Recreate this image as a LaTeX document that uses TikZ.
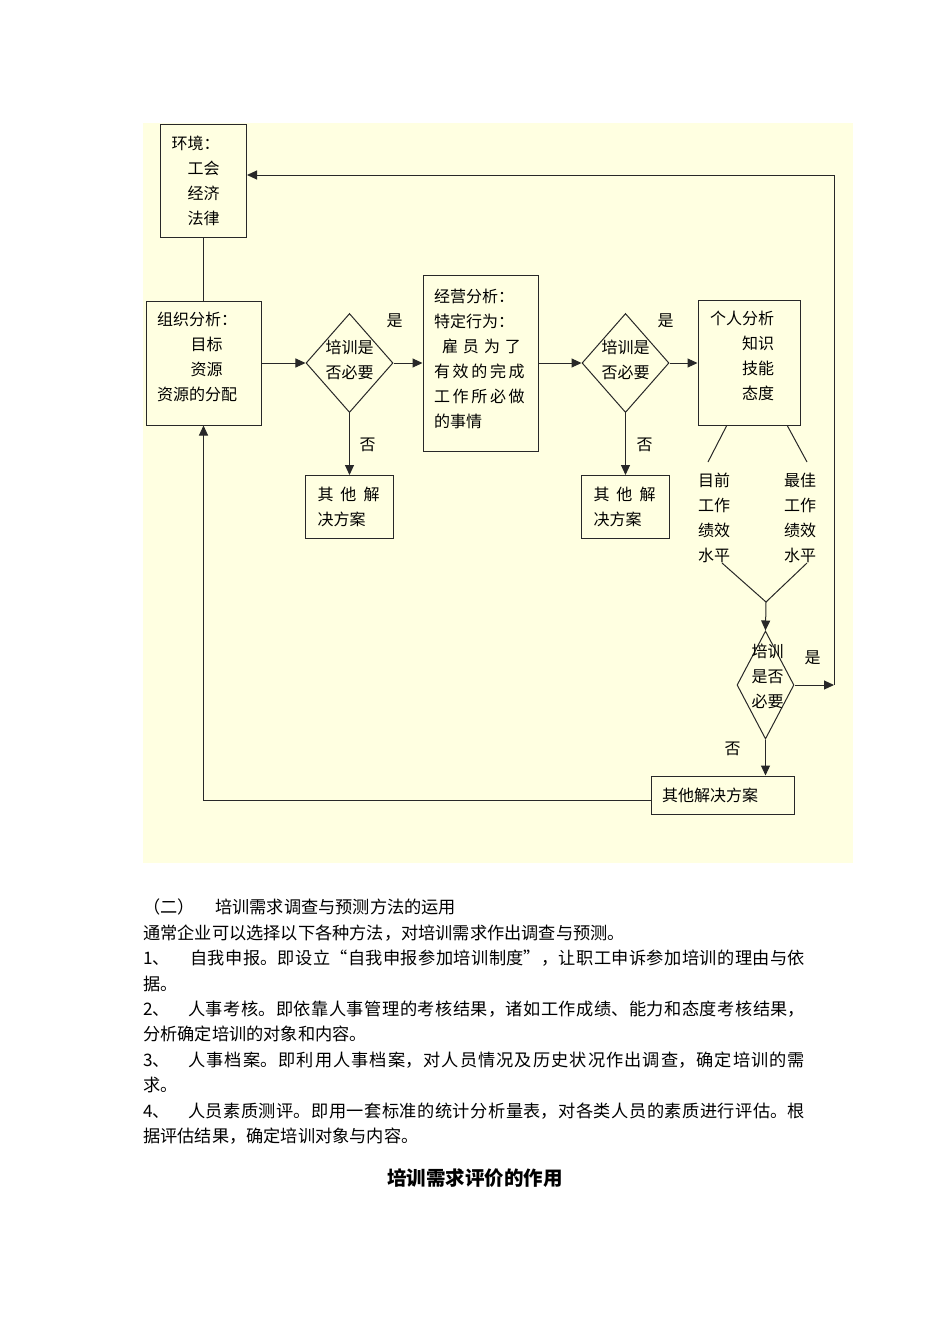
\documentclass[tikz,border=0pt]{standalone}
\usepackage{fontspec}
\setmainfont{Noto Sans CJK SC}
\usepackage{tikz}
\usetikzlibrary{positioning}
\usetikzlibrary{shapes.geometric}
\usetikzlibrary{arrows.meta}
\usetikzlibrary{calc}
\XeTeXlinebreaklocale "zh"
\XeTeXlinebreakskip=0pt plus 2pt
\definecolor{bgyellow}{RGB}{255,255,225}
\definecolor{inkgray}{RGB}{40,40,40}
\newcommand{\fullline}[1]{\parbox[t]{662pt}{\noindent\parfillskip=0pt\relax #1\par}}

\begin{document}
\begin{tikzpicture}[x=1pt,y=-1pt,
		font=\fontsize{16}{25}\selectfont,
		box/.style={draw=inkgray,line width=1pt,rectangle,align=left,inner xsep=11pt,inner ysep=0pt},
		decide/.style={draw=inkgray,line width=1pt,diamond,inner sep=0pt,minimum width=87pt,minimum height=99pt},
		flow/.style={draw=inkgray,line width=1pt,-{Triangle[length=10pt,width=9pt]}},
		link/.style={draw=inkgray,line width=1pt}]
		\useasboundingbox (0,0) rectangle (950,1344);
		\fill[bgyellow] (143,123) rectangle (853,863);
		% first row
		\node[box,text width=93pt,text height=24pt,text depth=100pt] at (203.5,363) (org) {组织分析：\\\hspace*{2.1em}目标\\\hspace*{2.1em}资源\\资源的分配};
		\node[above = 63pt of org,box,text width=64pt,minimum height=113pt] (env) {环境：\\\hspace*{1em}工会\\\hspace*{1em}经济\\\hspace*{1em}法律};
		\node[right = 44pt of org,decide,label={[align=center,yshift=3pt]center:培训是\\否必要}] (d1) {};
		\node[right = 29pt of d1,box,text width=93pt,text height=27pt,text depth=149pt] (biz) {经营分析：\\特定行为：\\\hspace*{0.5em}雇\hspace{5pt}员\hspace{5pt}为\hspace{5pt}了\\有\,效\,的\,完\,成\\工\,作\,所\,必\,做\\的事情};
		\node[right = 43pt of biz,decide,label={[align=center,yshift=3pt]center:培训是\\否必要}] (d2) {};
		\node[right = 28pt of d2,box,inner xsep=12pt,text width=78pt,text height=24pt,text depth=101pt] (pers) {个人分析\\\hspace*{2em}知识\\\hspace*{2em}技能\\\hspace*{2em}态度};
		\node[below = 62pt of d1,box,inner xsep=12pt,text width=64pt,minimum height=63pt] (oth1) {其\hspace{7pt}他\hspace{7pt}解\\决方案};
		\node[below = 62pt of d2,box,inner xsep=12pt,text width=64pt,minimum height=63pt] (oth2) {其\hspace{7pt}他\hspace{7pt}解\\决方案};
		% performance gap
		\node[align=center] at (714,517.5) (cur) {目前\\工作\\绩效\\水平};
		\node[align=center] at (800,517.5) (best) {最佳\\工作\\绩效\\水平};
		\node[decide,minimum width=57pt,minimum height=108pt,label={[align=center,yshift=9pt,xshift=2pt]center:培训\\是否\\必要}] at (765.5,685) (d3) {};
		\node[box,text width=121pt,minimum height=38pt] at (722.5,795) (oth3) {其他解决方案};
		% yes / no
		\node at ($(d1.east)+(1,-42)$) (yes1) {是};
		\node at ($(d1.south)+(18,32)$) (no1) {否};
		\node at ($(d2.east)+(-4,-42)$) (yes2) {是};
		\node at ($(d2.south)+(19,32)$) (no2) {否};
		\node at ($(d3.east)+(18,-27)$) (yes3) {是};
		\node at ($(d3.south)+(-33,9)$) (no3) {否};
		\coordinate (pl) at (708,462);
		\coordinate (pr) at (807,462);
		\coordinate (cl) at (722,563);
		\coordinate (cr) at (807,563);
		\coordinate (join) at (766,602);
		\coordinate (rt) at (834,685);
		\coordinate (ret) at (834,175);
		% connectors
		\draw[link] (env.south) -- (env.south |- org.north);
		\draw[flow] (org) -- (d1);
		\draw[flow] (d1) -- (biz);
		\draw[flow] (d1) -- (oth1);
		\draw[flow] (biz) -- (d2);
		\draw[flow] (d2) -- (pers);
		\draw[flow] (d2) -- (oth2);
		\draw[link] ($(pers.south west)+(29,0)$) -- (pl);
		\draw[link] ($(pers.south east)+(-13,0)$) -- (pr);
		\draw[link] (cl) -- (join) -- (cr);
		\draw[flow] (join) -- (d3.north);
		\draw[flow] (d3.east) -- (rt);
		\draw[flow] (rt) -- (ret) -- (ret -| env.east);
		\draw[flow] (d3.south) -- (d3.south |- oth3.north);
		\draw[flow] ($(oth3.west)+(0,5)$) -| (org.south);
		% text below
		\node[anchor=north west,inner sep=0pt,align=left,font=\fontsize{17.2}{25.4}\selectfont] at (143,899) (body) {%
			\makebox[72pt][l]{（二）}培训需求调查与预测方法的运用\\
			通常企业可以选择以下各种方法，对培训需求作出调查与预测。\\
			\fullline{\makebox[47pt][l]{1、}自我申报。即设立“自我申报参加培训制度”，让职工申诉参加培训的理由与依}\\
			据。\\
			\fullline{\makebox[45pt][l]{2、}人事考核。即依靠人事管理的考核结果，诸如工作成绩、能力和态度考核结果，}\\
			分析确定培训的对象和内容。\\
			\fullline{\makebox[45pt][l]{3、}人事档案。即利用人事档案，对人员情况及历史状况作出调查，确定培训的需}\\
			求。\\
			\fullline{\makebox[45pt][l]{4、}人员素质测评。即用一套标准的统计分析量表，对各类人员的素质进行评估。根}\\
			据评估结果，确定培训对象与内容。};
		\node[font=\fontsize{19.5}{24}\selectfont\bfseries] at (475,1178) (title) {培训需求评价的作用};
	\end{tikzpicture}
\end{document}
